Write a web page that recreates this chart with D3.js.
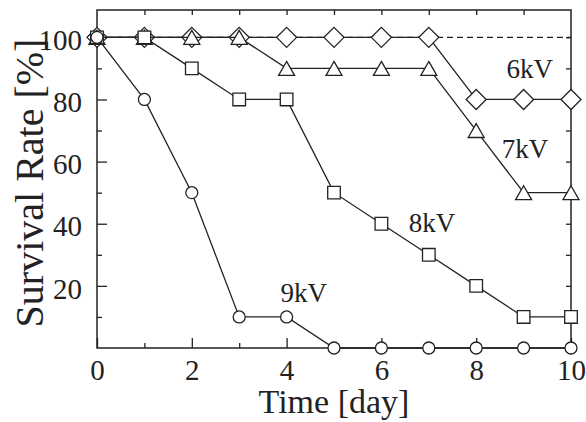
<!DOCTYPE html>
<html>
<head>
<meta charset="utf-8">
<script src="https://cdn.jsdelivr.net/npm/d3@7"></script>
<style>
  body { margin: 0; background: #fff; }
  svg text { font-family: "Liberation Serif", "Times New Roman", Times, "DejaVu Serif", serif; fill: #222; }
</style>
</head>
<body>
<script>
const days = [0, 1, 2, 3, 4, 5, 6, 7, 8, 9, 10]
const rate6kV = [100, 100, 100, 100, 100, 100, 100, 100, 80, 80, 80]
const rate7kV = [100, 100, 100, 100, 90, 90, 90, 90, 70, 50, 50]
const rate8kV = [100, 100, 90, 80, 80, 50, 40, 30, 20, 10, 10]
const rate9kV = [100, 80, 50, 10, 10, 0, 0, 0, 0, 0, 0]
const controlRate = [100, 100]
const controlDays = [0, 10]
const xTicks = [0, 2, 4, 6, 8, 10]
const yTicks = [20, 40, 60, 80, 100]
// label anchors in data units
const labels = [
  {text: '6kV', x: 9.13, y: 86.8},
  {text: '7kV', x: 9.03, y: 61.2},
  {text: '8kV', x: 7.07, y: 37.2},
  {text: '9kV', x: 4.36, y: 14.9}
]

const serif = '"Liberation Serif", "Times New Roman", Times, "DejaVu Serif", serif'

const svg = d3.select('body').append('svg')
  .attr('width', 586)
  .attr('height', 422)
  .attr('font-family', serif)

const margin = {top: 10, right: 15, bottom: 74, left: 97}
const width = 586 - margin.left - margin.right
const height = 422 - margin.top - margin.bottom

const x = d3.scaleLinear().domain([0, 10]).range([0, width])
const y = d3.scaleLinear().domain([0, 108.8]).range([height, 0])

const g = svg.append('g').attr('transform', `translate(${margin.left},${margin.top})`)

const tickStyle = (sel) => {
  sel.attr('font-family', serif).attr('font-size', 29)
  sel.select('.domain').remove()
  sel.selectAll('line').attr('stroke', '#222').attr('stroke-width', 1.3)
  sel.selectAll('text').attr('fill', '#222')
}

// bottom axis
g.append('g').attr('transform', `translate(0,${height})`)
  .call(d3.axisBottom(x).tickValues(xTicks).tickSizeInner(-10).tickSizeOuter(0).tickPadding(11).tickFormat(d3.format('d')))
  .call(tickStyle)
g.append('g').attr('transform', `translate(0,${height})`)
  .call(d3.axisBottom(x).tickValues([1, 3, 5, 7, 9]).tickSizeInner(-5).tickSizeOuter(0).tickFormat(''))
  .call(tickStyle)

// left axis
g.append('g')
  .call(d3.axisLeft(y).tickValues(yTicks).tickSizeInner(-10).tickSizeOuter(0).tickPadding(15).tickFormat(d3.format('d')))
  .call(tickStyle)
  .call((s) => s.selectAll('text').attr('dy', '0.42em'))
g.append('g')
  .call(d3.axisLeft(y).tickValues([10, 30, 50, 70, 90]).tickSizeInner(-5).tickSizeOuter(0).tickFormat(''))
  .call(tickStyle)

// top and right axes
g.append('g')
  .call(d3.axisTop(x).tickValues(d3.range(1, 10)).tickSizeInner(-5).tickSizeOuter(0).tickFormat(''))
  .call(tickStyle)
g.append('g').attr('transform', `translate(${width},0)`)
  .call(d3.axisRight(y).tickValues(d3.range(10, 101, 10)).tickSizeInner(-5).tickSizeOuter(0).tickFormat(''))
  .call(tickStyle)

// frame
g.append('rect')
  .attr('width', width)
  .attr('height', height)
  .attr('fill', 'none')
  .attr('stroke', '#222')
  .attr('stroke-width', 1.5)

// dashed reference
const line = d3.line().x((d) => x(d[0])).y((d) => y(d[1]))
g.append('path')
  .datum(d3.zip(controlDays, controlRate))
  .attr('d', line)
  .attr('fill', 'none')
  .attr('stroke', '#222')
  .attr('stroke-width', 1.3)
  .attr('stroke-dasharray', '6,4')

// markers sized by bounding box half-width r
const diamond = {draw (ctx, r) {
  ctx.moveTo(0, -r); ctx.lineTo(r, 0); ctx.lineTo(0, r); ctx.lineTo(-r, 0); ctx.closePath()
}}
const triangle = {draw (ctx, r) {
  const h = r * 0.87
  ctx.moveTo(0, -h); ctx.lineTo(r, h); ctx.lineTo(-r, h); ctx.closePath()
}}
const square = {draw (ctx, r) { ctx.rect(-r, -r, 2 * r, 2 * r) }}
const circle = {draw (ctx, r) { ctx.moveTo(r, 0); ctx.arc(0, 0, r, 0, 2 * Math.PI) }}

const series = [
  {values: rate6kV, symbol: diamond, r: 10},
  {values: rate7kV, symbol: triangle, r: 8},
  {values: rate8kV, symbol: square, r: 6.3},
  {values: rate9kV, symbol: circle, r: 6}
]

series.forEach((s) => {
  const pts = d3.zip(days, s.values)
  g.append('path')
    .datum(pts)
    .attr('d', line)
    .attr('fill', 'none')
    .attr('stroke', '#222')
    .attr('stroke-width', 1.3)
  g.selectAll(null)
    .data(pts)
    .enter()
    .append('path')
    .attr('d', d3.symbol().type(s.symbol).size(s.r))
    .attr('transform', (d) => `translate(${x(d[0])},${y(d[1])})`)
    .attr('fill', '#fff')
    .attr('stroke', '#222')
    .attr('stroke-width', 1.3)
})

g.selectAll('.lbl')
  .data(labels)
  .enter()
  .append('text')
  .attr('class', 'lbl')
  .attr('x', (d) => x(d.x))
  .attr('y', (d) => y(d.y))
  .attr('text-anchor', 'middle')
  .attr('font-size', 27)
  .text((d) => d.text)

svg.append('text')
  .attr('x', margin.left + width / 2)
  .attr('y', 413)
  .attr('text-anchor', 'middle')
  .attr('font-size', 34)
  .text('Time [day]')

svg.append('text')
  .attr('transform', 'rotate(-90)')
  .attr('x', -183)
  .attr('y', 43)
  .attr('text-anchor', 'middle')
  .attr('font-size', 40)
  .text('Survival Rate [%]')
</script>
</body>
</html>
